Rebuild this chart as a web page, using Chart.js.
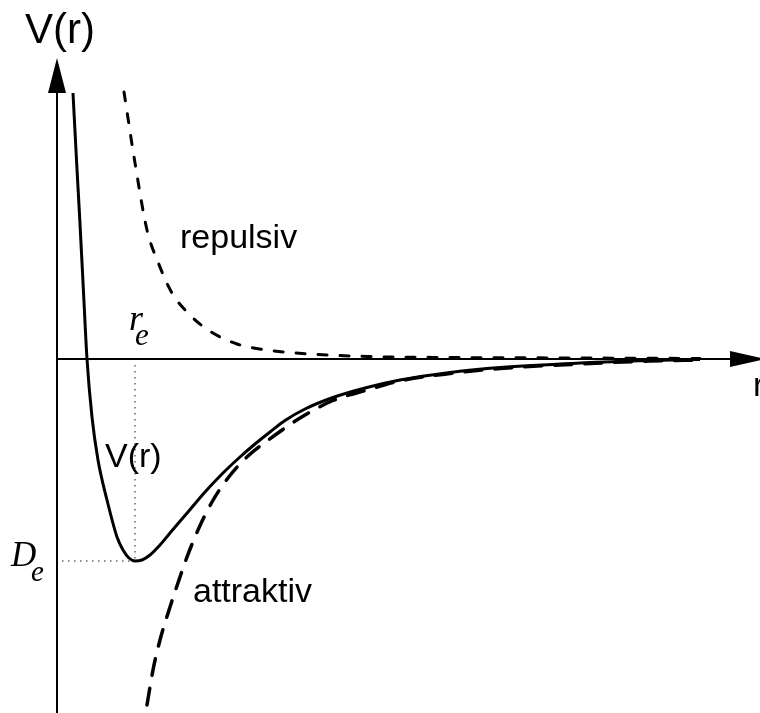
<!DOCTYPE html>
<html>
<head>
<meta charset="utf-8">
<title>V(r)</title>
<script src="https://cdn.jsdelivr.net/npm/chart.js@4/dist/chart.umd.min.js"></script>
<style>
  html, body { margin: 0; padding: 0; background: #fff; }
  #potChart { display: block; }
</style>
</head>
<body>
<canvas id="potChart" width="760" height="713"></canvas>
<script>
// Total potential V(r)
const solidR = [0.16, 0.195, 0.228, 0.264, 0.30, 0.35, 0.41, 0.50, 0.60, 0.66, 0.72, 0.78, 0.85, 0.93, 1.03, 1.13, 1.31, 1.48, 1.65, 1.83, 1.98, 2.13, 2.28, 2.48, 2.76, 3.10, 3.43, 3.93, 4.43, 5.23, 5.93, 6.43];
const solidV = [2.66, 1.99, 1.39, 0.69, 0.00, -0.58, -1.01, -1.41, -1.78, -1.91, -1.99, -2.02, -2.01, -1.96, -1.86, -1.74, -1.53, -1.33, -1.15, -0.98, -0.85, -0.73, -0.615, -0.50, -0.385, -0.285, -0.21, -0.135, -0.085, -0.04, -0.015, -0.005];

// Repulsive part
const repulsivR = [0.67, 0.78, 0.90, 1.01, 1.15, 1.31, 1.51, 1.80, 2.10, 2.53, 3.10, 3.93, 5.23, 6.43];
const repulsivV = [2.67, 1.96, 1.29, 0.97, 0.66, 0.46, 0.29, 0.15, 0.09, 0.05, 0.025, 0.015, 0.01, 0.005];

// Attractive part
const attraktivR = [0.90, 0.96, 1.03, 1.13, 1.23, 1.30, 1.41, 1.55, 1.71, 1.91, 2.10, 2.28, 2.48, 2.76, 3.10, 3.43, 3.93, 4.43, 5.23, 5.93, 6.43];
const attraktivV = [-3.46, -3.11, -2.81, -2.48, -2.18, -1.98, -1.71, -1.43, -1.19, -0.97, -0.82, -0.69, -0.56, -0.415, -0.31, -0.22, -0.145, -0.095, -0.05, -0.02, -0.01];

// Equilibrium distance and well depth
const rE = 0.78;
const dE = -2.02;

function toPoints(xs, ys) {
  return xs.map((x, i) => ({ x: x, y: ys[i] }));
}

document.addEventListener("DOMContentLoaded", () => {
  renderChart();
});

/**
 * axisPlugin draws the arrowed axes, the dotted guides at r_e / D_e
 * and all the labels, positioned through the chart scales.
 */
const axisPlugin = {
  id: "axisArrows",
  beforeDatasetsDraw(chart) {
    const { ctx, scales: { x, y }, chartArea } = chart;
    const x0 = x.getPixelForValue(0);
    const y0 = y.getPixelForValue(0);
    const head = 35;
    const half = 9;

    ctx.save();
    ctx.strokeStyle = "#000";
    ctx.fillStyle = "#000";
    ctx.lineWidth = 2;

    // y axis
    const yTip = 58;
    ctx.beginPath();
    ctx.moveTo(x0, chartArea.bottom);
    ctx.lineTo(x0, yTip + head);
    ctx.stroke();
    ctx.beginPath();
    ctx.moveTo(x0, yTip);
    ctx.lineTo(x0 - half, yTip + head);
    ctx.lineTo(x0 + half, yTip + head);
    ctx.closePath();
    ctx.fill();

    // x axis
    const xTip = 765;
    ctx.beginPath();
    ctx.moveTo(x0, y0);
    ctx.lineTo(xTip - head, y0);
    ctx.stroke();
    ctx.beginPath();
    ctx.moveTo(xTip, y0);
    ctx.lineTo(xTip - head, y0 - 8);
    ctx.lineTo(xTip - head, y0 + 8);
    ctx.closePath();
    ctx.fill();

    // dotted guides
    const px = x.getPixelForValue(rE);
    const py = y.getPixelForValue(dE);
    ctx.strokeStyle = "#666";
    ctx.lineWidth = 1.5;
    ctx.setLineDash([1.5, 4.5]);
    ctx.beginPath();
    ctx.moveTo(px, y0 + 6);
    ctx.lineTo(px, py);
    ctx.moveTo(x0 + 5, py);
    ctx.lineTo(px, py);
    ctx.stroke();
    ctx.restore();
  },
  afterDraw(chart) {
    const { ctx, scales: { x, y } } = chart;
    const sans = "'Liberation Sans', Arial, sans-serif";
    const serif = "'Liberation Serif', 'Times New Roman', serif";

    ctx.save();
    ctx.fillStyle = "#000";
    ctx.textBaseline = "alphabetic";
    ctx.textAlign = "left";

    ctx.font = "42px " + sans;
    ctx.fillText("V(r)", 25, 43);

    ctx.font = "34px " + sans;
    ctx.fillText("r", 753, 396);
    ctx.fillText("V(r)", 105, 467);
    ctx.fillText("repulsiv", 180, 248);
    ctx.fillText("attraktiv", 193, 602);

    // r_e above the axis
    const px = x.getPixelForValue(rE);
    ctx.font = "italic 36px " + serif;
    ctx.fillText("r", px - 6, 330);
    ctx.font = "italic 31px " + serif;
    ctx.fillText("e", px, 345);

    // D_e beside the well bottom
    const py = y.getPixelForValue(dE);
    ctx.font = "italic 35px " + serif;
    ctx.fillText("D", 11, py + 5);
    ctx.font = "italic 29px " + serif;
    ctx.fillText("e", 31, py + 20);
    ctx.restore();
  }
};

/**
 * renderChart builds the scatter chart with the three potential curves.
 */
function renderChart() {
  const ctx = document.getElementById("potChart").getContext("2d");

  window.potChart = new Chart(ctx, {
    type: "scatter",
    data: {
      datasets: [
        {
          label: "V(r)",
          data: toPoints(solidR, solidV),
          showLine: true,
          borderColor: "#000",
          borderWidth: 3,
          pointRadius: 0,
          cubicInterpolationMode: "monotone"
        },
        {
          label: "repulsiv",
          data: toPoints(repulsivR, repulsivV),
          showLine: true,
          borderColor: "#000",
          borderWidth: 3,
          borderDash: [9, 13],
          borderCapStyle: "round",
          pointRadius: 0,
          cubicInterpolationMode: "monotone"
        },
        {
          label: "attraktiv",
          data: toPoints(attraktivR, attraktivV),
          showLine: true,
          borderColor: "#000",
          borderWidth: 3.5,
          borderDash: [17, 13],
          borderCapStyle: "round",
          pointRadius: 0,
          cubicInterpolationMode: "monotone"
        }
      ]
    },
    options: {
      responsive: false,
      devicePixelRatio: 1,
      animation: false,
      layout: { padding: 0 },
      scales: {
        x: { type: "linear", min: -0.57, max: 7.03, display: false },
        y: { type: "linear", min: -3.54, max: 3.59, display: false }
      },
      plugins: {
        legend: { display: false },
        tooltip: { enabled: false }
      }
    },
    plugins: [axisPlugin]
  });
}
</script>
</body>
</html>
